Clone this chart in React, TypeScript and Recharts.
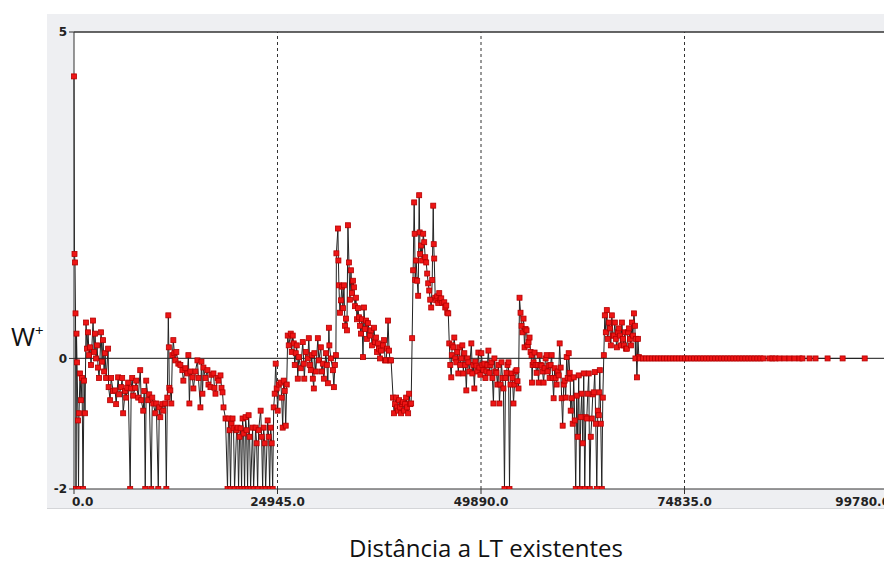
import { LineChart, Line, XAxis, YAxis, CartesianGrid, ReferenceLine } from "recharts";

// W+ por distância (m), trecho a trecho
const trecho1: [number, number][] = [
  [0, 4.32], [62, 1.6], [123, 1.47], [185, 0.69], [246, -2], [308, 0.38], [369, -0.06], [492, -0.95],
  [554, -2], [615, -0.84], [738, -0.23], [861, -0.64], [984, -0.3], [1107, -2], [1230, -0.34], [1353, -0.84],
  [1476, 0.55], [1599, 0.15], [1722, 0.4], [1845, 0.05], [1968, 0.17], [2091, -0.1], [2337, 0.58], [2460, 0.1],
  [2583, 0.38], [2706, 0.0], [2829, 0.2], [2952, -0.14], [3075, -0.3], [3321, 0.4], [3444, -0.05], [3567, 0.28],
  [3690, -0.2], [3813, 0.08], [3936, -0.3], [4182, 0.15], [4244, -0.44], [4428, -0.64], [4551, -0.3], [4797, -0.5],
  [5043, -0.49], [5166, -0.7], [5412, -0.29], [5535, -0.55], [5781, -0.44], [5904, -0.3], [6027, -0.84], [6273, -0.5],
  [6396, -0.6], [6519, -0.45], [6642, -0.37], [6888, -2], [7011, -0.46], [7134, -0.3], [7257, -0.57], [7503, -0.45],
  [7626, -0.34], [7872, -0.6], [8118, -0.18], [8241, -0.64], [8487, -0.8], [8610, -0.5], [8733, -2], [8856, -0.34],
  [9102, -0.64], [9225, -0.55], [9471, -2], [9594, -0.6], [9717, -0.69], [9963, -0.84], [10086, -0.69], [10332, -2],
  [10455, -0.75], [10578, -0.9], [10824, -0.7], [10947, -0.8], [11193, -0.69], [11316, -2], [11439, -0.6],
];

const trecho2: [number, number][] = [
  [11562, 0.66], [11624, 0.17], [11685, -0.45], [11808, -0.49], [11931, -0.69], [12054, 0.05], [12177, 0.28],
  [12300, 0.08], [12423, -0.03], [12546, 0.1], [12792, -0.08], [13038, -0.1], [13284, -0.18], [13407, -0.34],
  [13653, -0.15], [13899, -0.23], [14022, 0.05], [14145, -0.69], [14268, -0.2], [14514, -0.29], [14637, -0.46],
  [14883, -0.2], [15129, -0.03], [15252, -0.3], [15498, -0.75], [15621, -0.05], [15744, -0.54], [15867, -0.14],
  [16113, -0.3], [16359, -0.18], [16482, -0.4], [16728, -0.44], [16851, -0.25], [17097, -0.23], [17220, -0.45],
  [17343, -0.54], [17589, -0.3], [17712, -0.34], [17958, -0.26], [18081, -0.45], [18204, -0.52], [18327, -0.75],
  [18573, -0.92],
];

const trecho3: [number, number][] = [
  [18819, -2], [18942, -0.92], [19065, -1.1], [19188, -2], [19311, -1.0], [19434, -0.92], [19557, -1.07],
  [19680, -2], [19926, -1.1], [20049, -1.06], [20172, -2], [20295, -1.2], [20418, -1.07], [20541, -2],
  [20664, -0.92], [20787, -1.15], [20910, -2], [21033, -0.9], [21156, -1.1], [21279, -2], [21402, -0.87],
  [21525, -1.2], [21648, -2], [21894, -1.06], [22017, -2], [22263, -1.06], [22386, -1.3], [22509, -2],
  [22632, -1.1], [22878, -0.8], [23001, -1.2], [23124, -2], [23247, -1.06], [23370, -1.3], [23493, -2],
  [23739, -0.95], [23862, -1.2], [23985, -2], [24108, -1.06], [24231, -1.3], [24354, -2], [24477, -0.75],
  [24600, -0.54], [24723, -0.08], [24846, -0.46], [24969, -0.8], [25092, -0.4], [25338, -0.37], [25461, -0.6],
  [25584, -1.06], [25707, -0.34], [25830, -0.5], [25953, -1.03], [26076, -0.4],
];

const trecho4: [number, number][] = [
  [26199, 0.35], [26322, 0.2], [26568, 0.38], [26691, 0.1], [26814, 0.35], [26937, 0.23], [27060, -0.1],
  [27183, 0.08], [27306, 0.2], [27429, -0.31], [27552, 0.02], [27798, -0.15], [28044, 0.25], [28167, -0.08],
  [28229, -0.31], [28413, 0.1], [28659, 0.0], [28782, 0.31], [28905, -0.1], [29028, -0.18], [29151, 0.05],
  [29274, -0.31], [29397, -0.46], [29459, 0.08], [29643, -0.2], [29889, 0.31], [30012, -0.03], [30258, 0.17],
  [30381, -0.2], [30504, -0.08], [30627, -0.31], [30873, 0.08], [30996, -0.1], [31119, -0.38], [31242, 0.47],
  [31304, 0.2], [31488, 0.0], [31734, -0.18], [31857, -0.44], [31980, -0.1], [32103, 0.05],
];

const trecho5: [number, number][] = [
  [32165, 1.61], [32349, 1.99], [32411, 1.5], [32472, 1.12], [32595, 0.7], [32718, 0.89], [32841, 1.1],
  [32964, 0.77], [33087, 1.12], [33210, 0.5], [33333, 0.61], [33456, 0.43], [33579, 2.04], [33702, 1.47],
  [33825, 0.9], [33948, 1.35], [34071, 1.0], [34194, 1.19], [34317, 1.09], [34440, 0.8], [34563, 0.93],
  [34686, 0.6], [34809, 0.77], [34932, 0.63], [35055, 0.5], [35178, 0.38], [35301, 0.6], [35424, 0.02],
  [35547, 0.78], [35670, 0.45], [35793, 0.58], [35916, 0.3], [36039, 0.54], [36285, 0.35], [36408, 0.43],
  [36531, 0.2], [36777, 0.47], [36900, 0.25], [37023, 0.32], [37146, 0.1], [37269, 0.23], [37392, 0.15],
  [37515, 0.0], [37638, 0.12], [37884, 0.2], [38007, 0.28], [38130, -0.03], [38253, -0.03], [38376, 0.15],
  [38499, 0.58], [38622, 0.12], [38745, -0.03], [38868, -0.03],
];

const trecho6: [number, number][] = [
  [39114, -0.6], [39237, -0.84], [39360, -0.7], [39483, -0.6], [39606, -0.75], [39729, -0.8], [39852, -0.64],
  [39975, -0.75], [40098, -0.84], [40221, -0.7], [40344, -0.67], [40467, -0.8], [40590, -0.7], [40713, -0.6],
  [40836, -0.75], [40959, -0.84], [41082, -0.54], [41205, -0.7], [41328, -0.69],
];

const trecho7: [number, number][] = [
  [41451, 0.31], [41574, 1.35], [41697, 2.39], [41759, 1.91], [41820, 1.2], [41943, 1.5], [42066, 1.19],
  [42189, 0.96], [42312, 2.5], [42374, 1.93], [42435, 1.6], [42558, 1.73], [42681, 1.5], [42804, 1.91],
  [42927, 1.78], [43050, 1.55], [43173, 1.47], [43296, 1.3], [43419, 1.15], [43542, 1.04], [43665, 0.9],
  [43788, 0.78], [43911, 1.2], [44034, 2.34], [44096, 1.75], [44157, 1.53], [44280, 0.93], [44403, 0.89],
  [44526, 0.95], [44649, 0.85], [44772, 1.0], [44895, 0.9], [45018, 0.92], [45141, 0.85], [45387, 0.86],
  [45510, 0.78], [45633, 0.81], [45756, 0.7], [45879, 0.69],
];

const trecho8: [number, number][] = [
  [46002, 0.23], [46125, -0.1], [46248, -0.29], [46310, 0.05], [46371, 0.2], [46494, 0.17], [46617, 0.32],
  [46740, 0.0], [46863, -0.06], [46986, 0.1], [47109, -0.23], [47232, 0.17], [47355, -0.1], [47478, 0.0],
  [47601, 0.2], [47724, -0.23], [47847, 0.08], [47970, -0.1], [48093, -0.49], [48216, 0.0], [48339, -0.06],
  [48462, -0.2], [48708, 0.23], [48831, -0.23], [48954, -0.1], [49077, -0.46], [49200, -0.05], [49323, -0.11],
  [49446, -0.2], [49569, 0.09], [49692, -0.14], [49815, -0.25], [49938, 0.08], [50061, -0.1], [50184, -0.18],
  [50307, -0.08], [50430, -0.3], [50553, -0.2], [50676, -0.1], [50799, 0.12], [50922, -0.22], [51045, -0.1],
  [51168, -0.06], [51291, -0.3], [51414, -0.69], [51537, 0.0], [51660, -0.2], [51783, -0.22], [51906, -0.4],
  [52029, -0.1], [52152, -0.69], [52275, -0.4], [52398, -0.06], [52521, -0.3], [52644, -0.46], [52767, -2],
  [52890, -0.3], [53013, -0.22], [53136, -0.1], [53259, -0.06], [53382, -2], [53505, -0.4], [53628, -0.23],
  [53751, -0.3], [53874, -0.69], [53997, -0.4], [54120, -0.2], [54243, -0.18], [54366, -0.35], [54489, -0.46],
];

const trecho9: [number, number][] = [
  [54612, 0.93], [54735, 0.7], [54858, 0.5], [54981, 0.4], [55104, 0.61], [55227, 0.17], [55350, 0.45],
  [55473, 0.43], [55596, 0.2], [55719, 0.25], [55842, 0.32], [55965, 0.1], [56088, 0.05], [56150, -0.37],
  [56211, -0.1], [56334, -0.06], [56457, 0.09], [56580, -0.1], [56703, -0.22], [56826, -0.1], [56949, -0.37],
  [57072, 0.05], [57195, -0.1], [57318, -0.11], [57441, -0.2], [57564, -0.37], [57687, -0.15], [57810, 0.0],
  [57933, 0.05], [58056, -0.2], [58179, -0.11], [58302, -0.3], [58425, -0.1], [58548, 0.05], [58671, -0.3],
  [58794, -0.61], [58917, -0.15], [59040, -0.3], [59163, -0.4], [59286, -0.2], [59409, -0.26], [59532, 0.23],
  [59655, -0.14], [59778, -0.61], [59901, -1.03], [60024, -0.4], [60147, -0.34], [60270, -0.6], [60393, 0.02],
  [60516, -0.3], [60639, 0.08], [60762, -0.22],
];

const trecho10: [number, number][] = [
  [60824, -0.31], [60885, -0.8], [61008, -0.61], [61131, -1.0], [61254, -0.29], [61377, -0.95], [61500, -2],
  [61623, -0.57], [61746, -1.2], [61869, -0.26], [61992, -2], [62115, -0.9], [62238, -0.54], [62361, -1.3],
  [62484, -0.23], [62607, -2], [62730, -0.9], [62853, -0.92], [62976, -0.54], [63099, -0.23], [63222, -2],
  [63345, -1.2], [63468, -0.92], [63591, -0.55], [63714, -0.52], [63837, -0.21], [63960, -1.0], [64083, -2],
  [64206, -0.8], [64329, -0.87], [64391, -0.52], [64452, -0.18], [64575, -1.0], [64698, -2], [64821, -0.6],
];

const trecho11: [number, number][] = [
  [64944, 0.05], [65067, 0.66], [65190, 0.4], [65313, 0.74], [65436, 0.3], [65559, 0.55], [65682, 0.46],
  [65805, 0.2], [65928, 0.66], [66051, 0.35], [66174, 0.35], [66297, 0.55], [66420, 0.3], [66543, 0.17],
  [66666, 0.4], [66789, 0.46], [66912, 0.35], [67035, 0.2], [67158, 0.55], [67281, 0.3], [67404, 0.2],
  [67527, 0.4], [67650, 0.15], [67773, 0.15], [67896, 0.4], [68019, 0.46], [68142, 0.3], [68265, 0.2],
  [68388, 0.55], [68511, 0.35], [68634, 0.69], [68757, 0.5], [68819, 0.0], [68880, 0.3], [69003, -0.29],
  [69126, 0.3], [69249, 0.02],
];

const trecho12: [number, number][] = [
  [69372, 0], [69741, 0], [70110, 0], [70479, 0], [70848, 0], [71217, 0], [71586, 0], [71955, 0],
  [72324, 0], [72693, 0], [73062, 0], [73431, 0], [73800, 0], [74169, 0], [74538, 0], [74907, 0],
  [75276, 0], [75645, 0], [76014, 0], [76383, 0], [76752, 0], [77121, 0], [77490, 0], [77859, 0],
  [78228, 0], [78597, 0], [78966, 0], [79335, 0], [79704, 0], [80073, 0], [80442, 0], [80811, 0],
  [81180, 0], [81549, 0], [81918, 0], [82287, 0], [82656, 0], [83025, 0], [83394, 0], [83763, 0],
  [84132, 0], [84501, 0], [85239, 0], [85608, 0], [85977, 0], [86469, 0], [87084, 0], [87699, 0],
  [88314, 0], [88929, 0], [89298, 0], [90159, 0], [90897, 0], [92373, 0], [94218, 0], [96924, 0],
];

const xTicks = [0, 24945, 49890, 74835, 99780];
const yTicks = [-2, 0, 5];
const divisoes = [24945, 49890, 74835];

const data = [
  ...trecho1, ...trecho2, ...trecho3, ...trecho4, ...trecho5, ...trecho6,
  ...trecho7, ...trecho8, ...trecho9, ...trecho10, ...trecho11, ...trecho12,
].map(([d, w]) => ({ d, w }));

const tickFont = { fontFamily: "DejaVu Sans, Verdana, sans-serif", fontSize: 12, fontWeight: 700, fill: "#222" };

function XTick({ x, y, payload }: any) {
  const v = Number(payload.value);
  // first and last labels hug the plot edges, as in the original
  const anchor = v === 0 ? "start" : v === 99780 ? "end" : "middle";
  const tx = v === 0 ? x - 2 : v === 99780 ? x + 2 : x;
  return (
    <text x={tx} y={y} dy={10} textAnchor={anchor} {...tickFont}>
      {v.toFixed(1)}
    </text>
  );
}

function SquareDot(props: any) {
  const { cx, cy } = props;
  if (cx == null || cy == null) return null;
  return <rect x={cx - 2.5} y={cy - 2.5} width={5} height={5} fill="#ee1515" stroke="#b40000" strokeWidth={0.8} />;
}

export default function App() {
  return (
    <div style={{ position: "absolute", left: 0, top: 0, width: 884, height: 563, overflow: "hidden", background: "#fff" }}>
      <div
        style={{
          position: "absolute", left: 47, top: 14, width: 850, height: 494,
          background: "#eeeff2", borderBottom: "1px solid #d4d5d8",
        }}
      />
      <div style={{ position: "absolute", left: 0, top: 0 }}>
        <LineChart width={920} height={563} data={data} margin={{ top: 32, right: 32, bottom: 0, left: 0 }}>
          <CartesianGrid fill="#fff" horizontal={false} vertical={false} />
          <XAxis
            type="number"
            dataKey="d"
            domain={[0, 99780]}
            ticks={xTicks}
            height={74}
            tickSize={5}
            tick={<XTick />}
            stroke="#333"
            interval={0}
          />
          <YAxis
            type="number"
            domain={[-2, 5]}
            ticks={yTicks}
            width={74}
            tickSize={5}
            tickMargin={2}
            tick={tickFont}
            stroke="#333"
            allowDataOverflow
          />
          <ReferenceLine y={5} stroke="#333" strokeWidth={1.5} />
          <ReferenceLine y={0} stroke="#444" strokeWidth={1.3} />
          {divisoes.map((v) => (
            <ReferenceLine key={v} x={v} stroke="#333" strokeDasharray="3 3" />
          ))}
          <Line
            type="linear"
            dataKey="w"
            stroke="#222"
            strokeWidth={1}
            isAnimationActive={false}
            dot={(p: any) => <SquareDot key={p.index} {...p} />}
            activeDot={false}
          />
        </LineChart>
      </div>
      <div
        style={{
          position: "absolute", left: 11, top: 321, fontFamily: "Open Sans, sans-serif",
          fontSize: 26, color: "#111", lineHeight: "30px",
        }}
      >
        W<span style={{ fontSize: 15, verticalAlign: "top", lineHeight: "18px" }}>+</span>
      </div>
      <div
        style={{
          position: "absolute", left: 0, width: 972, top: 532, textAlign: "center",
          fontFamily: "Open Sans, sans-serif", fontSize: 24, color: "#111", lineHeight: "32px",
        }}
      >
        Distância a LT existentes
      </div>
    </div>
  );
}
